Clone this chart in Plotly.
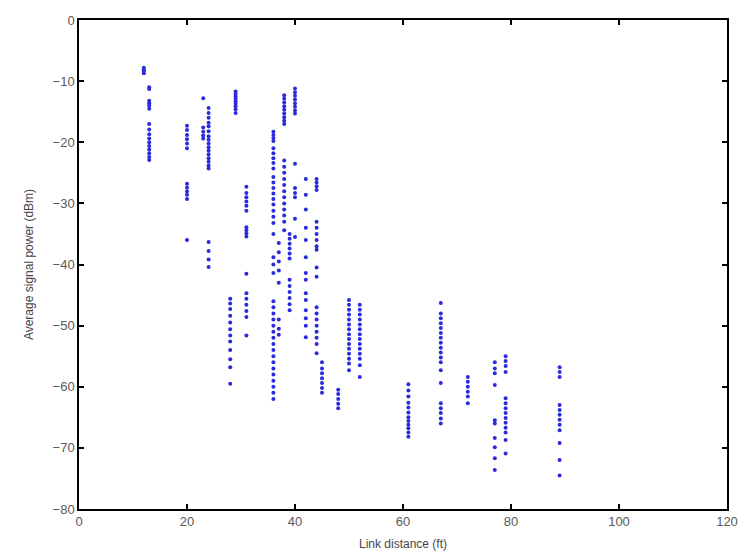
import plotly.graph_objects as go

link_distance_ft = [12, 13, 20, 23, 24, 28, 29, 31, 36, 37, 38, 39, 40, 42, 44, 45,
                    48, 50, 52, 61, 67, 72, 77, 79, 89]

signal_power_dbm = [
    [-7.8, -8.1, -8.4, -8.7],
    [-11.0, -11.3, -13.2, -13.6, -14.0, -14.5, -17.0, -17.9, -18.7, -19.4, -20.0, -20.6, -21.2, -21.8, -22.4, -22.9],
    [-17.3, -18.0, -18.8, -19.5, -20.2, -21.0, -26.8, -27.4, -28.0, -28.6, -29.3, -36.0],
    [-12.8, -17.6, -18.3, -18.9, -19.4],
    [-14.4, -15.2, -16.0, -16.8, -17.4, -18.2, -19.0, -19.6, -20.2, -20.8, -21.4, -22.0, -22.6, -23.2, -23.8, -24.3, -36.3, -37.8, -39.2, -40.4],
    [-45.6, -46.4, -47.3, -48.4, -49.5, -50.6, -51.6, -52.6, -54.0, -55.5, -56.8, -59.5],
    [-11.7, -12.1, -12.5, -12.9, -13.3, -13.7, -14.1, -14.6, -15.2],
    [-27.3, -28.3, -29.0, -29.7, -30.4, -31.2, -33.9, -34.4, -34.9, -35.4, -41.5, -44.7, -45.6, -46.6, -47.6, -48.6, -51.6],
    [-18.3, -18.8, -19.3, -19.8, -21.0, -21.8, -22.6, -23.4, -24.3, -25.7, -26.6, -27.5, -28.4, -29.3, -30.2, -31.2, -32.2, -33.2, -35.0, -38.8, -40.0, -41.4, -46.0, -47.0, -48.0, -49.0, -50.0, -51.0, -52.0, -53.0, -54.0, -55.0, -56.0, -57.0, -58.0, -59.0, -60.0, -61.0, -62.0],
    [-36.5, -38.0, -39.5, -41.0, -43.0, -49.0, -50.5, -51.5],
    [-12.3, -12.9, -13.5, -14.1, -14.7, -15.3, -15.9, -16.5, -17.0, -23.0, -24.0, -25.0, -26.0, -27.0, -28.0, -29.0, -30.0, -31.0, -32.0, -33.0, -34.4],
    [-35.0, -35.8, -36.6, -37.4, -38.2, -39.0, -42.5, -43.5, -44.5, -45.5, -46.5, -47.5],
    [-11.2, -11.8, -12.4, -13.0, -13.6, -14.2, -14.8, -15.3, -23.5, -27.5, -28.3, -29.0, -32.5, -35.5],
    [-26.0, -28.6, -31.0, -34.0, -36.0, -38.8, -41.4, -42.5, -44.7, -45.8, -47.5, -48.8, -50.0, -51.9],
    [-26.0, -26.6, -27.2, -27.8, -33.0, -34.0, -35.0, -36.0, -37.0, -37.6, -40.5, -42.0, -47.0, -48.0, -49.0, -50.0, -51.0, -52.0, -53.0, -54.5],
    [-56.0, -57.0, -57.8, -58.6, -59.4, -60.2, -61.0],
    [-60.5, -61.2, -62.0, -62.8, -63.5],
    [-45.8, -46.6, -47.4, -48.2, -49.0, -49.8, -50.6, -51.4, -52.2, -53.0, -53.8, -54.6, -55.4, -56.2, -57.3],
    [-46.6, -47.4, -48.2, -49.0, -49.8, -50.6, -51.4, -52.2, -53.0, -53.8, -54.6, -55.4, -56.5, -58.4],
    [-59.6, -60.6, -61.6, -62.6, -63.4, -64.2, -65.0, -65.6, -66.2, -66.8, -67.5, -68.2],
    [-46.3, -48.0, -48.8, -49.6, -50.4, -51.2, -52.0, -52.8, -53.6, -54.4, -55.2, -56.0, -57.3, -59.4, -62.7, -63.5, -64.3, -65.2, -66.0],
    [-58.4, -59.2, -60.0, -60.8, -61.6, -62.7],
    [-56.0, -57.0, -57.8, -59.7, -65.5, -66.0, -68.4, -69.9, -71.7, -73.6],
    [-55.0, -55.8, -56.6, -57.6, -61.9, -62.7, -63.5, -64.3, -65.1, -65.9, -66.7, -67.5, -68.7, -70.9],
    [-56.8, -57.6, -58.4, -63.0, -63.8, -64.6, -65.4, -66.2, -67.1, -69.2, -72.0, -74.5],
]

x_ticks = [0, 20, 40, 60, 80, 100, 120]
y_ticks = [0, -10, -20, -30, -40, -50, -60, -70, -80]

xs, ys = [], []
for d, vals in zip(link_distance_ft, signal_power_dbm):
    for v in vals:
        xs.append(d)
        ys.append(v)

fig = go.Figure(go.Scatter(
    x=xs, y=ys, mode="markers",
    marker=dict(symbol="circle", size=4, color="#2a2ade", line=dict(width=0)),
    showlegend=False,
))

font_family = "Liberation Sans, Arial, sans-serif"
axis_common = dict(
    showline=True, linecolor="black", linewidth=1.5, mirror="ticks",
    ticks="inside", ticklen=5, tickwidth=1.5, tickcolor="black",
    showgrid=False, zeroline=False, automargin=False,
    tickfont=dict(family=font_family, size=13, color="#5a5a5a"),
)

fig.update_layout(
    width=744, height=556,
    margin=dict(l=79, r=17, t=20, b=47),
    paper_bgcolor="white", plot_bgcolor="white",
    xaxis=dict(range=[0, 120], tickvals=x_ticks, ticktext=[str(t) for t in x_ticks],
               title=dict(text="Link distance (ft)", standoff=11,
                          font=dict(family=font_family, size=12, color="#444444")),
               **axis_common),
    yaxis=dict(range=[-80, 0], tickvals=y_ticks, ticktext=[str(t).replace("-", "\u2212") for t in y_ticks],
               title=dict(text="Average signal power (dBm)", standoff=16,
                          font=dict(family=font_family, size=12, color="#444444")),
               **axis_common),
)

fig.write_html("out.html", config={"displayModeBar": False},
               post_script="document.body.style.margin='0px';")
